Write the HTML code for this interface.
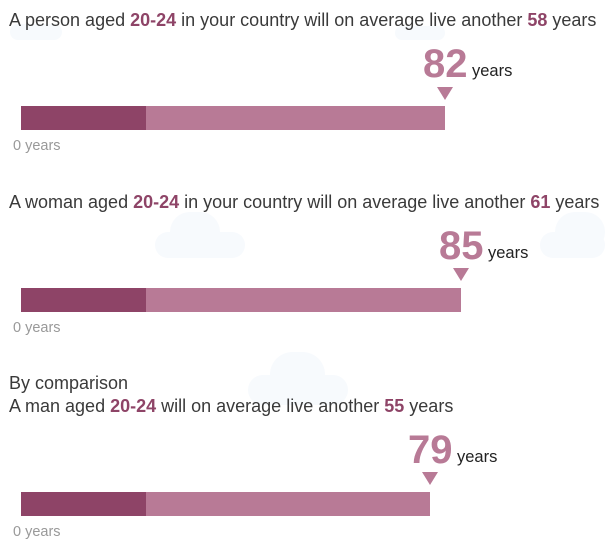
<!DOCTYPE html>
<html><head><style>
body{margin:0;width:605px;height:551px;background:#fff;position:relative;overflow:hidden;font-family:"Liberation Sans",sans-serif;}
.a{position:absolute;white-space:nowrap;}
.t{font-size:18px;color:#3a3a3a;line-height:18px;}
.t b{color:#8e4467;}
.bar{position:absolute;height:24px;background:#b87a96;left:21px;}
.bar i{position:absolute;left:0;top:0;bottom:0;width:125px;background:#8e4467;}
.z{font-size:14.5px;color:#999;}
.n{font-size:40px;font-weight:bold;color:#b87a96;line-height:40px;}
.y{font-size:16.5px;color:#222;}
.tri{position:absolute;width:0;height:0;border-left:8px solid transparent;border-right:8px solid transparent;border-top:13px solid #b87a96;}
.c{position:absolute;background:#f7fafd;border-radius:30px;}
</style></head><body>
<div class="c" style="left:10px;top:24px;width:52px;height:16px;"></div>
<div class="c" style="left:395px;top:26px;width:50px;height:14px;"></div>
<div class="c" style="left:155px;top:232px;width:90px;height:26px;"></div>
<div class="c" style="left:170px;top:212px;width:50px;height:40px;border-radius:25px;"></div>
<div class="c" style="left:540px;top:232px;width:65px;height:26px;"></div>
<div class="c" style="left:555px;top:212px;width:50px;height:40px;border-radius:25px;"></div>
<div class="c" style="left:248px;top:375px;width:100px;height:30px;"></div>
<div class="c" style="left:270px;top:352px;width:55px;height:45px;border-radius:28px;"></div>

<div class="a t" style="left:9px;top:11px;">A person aged <b>20-24</b> in your country will on average live another <b>58</b> years</div>
<div class="a n" style="left:423px;top:44px;">82</div>
<div class="a y" style="left:472px;top:62px;">years</div>
<div class="tri" style="left:437px;top:87px;"></div>
<div class="bar" style="top:106px;width:424px;"><i></i></div>
<div class="a z" style="left:13px;top:138px;">0 years</div>

<div class="a t" style="left:9px;top:193px;">A woman aged <b>20-24</b> in your country will on average live another <b>61</b> years</div>
<div class="a n" style="left:439px;top:226px;">85</div>
<div class="a y" style="left:488px;top:244px;">years</div>
<div class="tri" style="left:453px;top:268px;"></div>
<div class="bar" style="top:288px;width:440px;"><i></i></div>
<div class="a z" style="left:13px;top:320px;">0 years</div>

<div class="a t" style="left:9px;top:374px;">By comparison</div>
<div class="a t" style="left:9px;top:397px;">A man aged <b>20-24</b> will on average live another <b>55</b> years</div>
<div class="a n" style="left:408px;top:430px;">79</div>
<div class="a y" style="left:457px;top:448px;">years</div>
<div class="tri" style="left:422px;top:472px;"></div>
<div class="bar" style="top:492px;width:409px;"><i></i></div>
<div class="a z" style="left:13px;top:524px;">0 years</div>
</body></html>
